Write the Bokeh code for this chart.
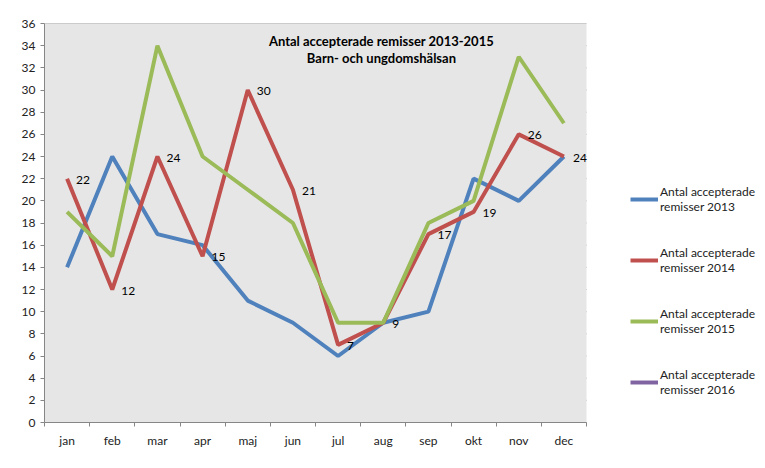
from bokeh.plotting import figure
from bokeh.models import Range1d, FixedTicker, Legend, LegendItem, Label, ColumnDataSource, BoxAnnotation
from bokeh.embed import file_html
from bokeh.resources import INLINE
from bokeh.core.properties import value

months = ["jan", "feb", "mar", "apr", "maj", "jun", "jul", "aug", "sep", "okt", "nov", "dec"]
s2013 = [14, 24, 17, 16, 11, 9, 6, 9, 10, 22, 20, 24]
s2014 = [22, 12, 24, 15, 30, 21, 7, 9, 17, 19, 26, 24]
s2015 = [19, 15, 34, 24, 21, 18, 9, 9, 18, 20, 33, 27]
s2016 = [None, None, None, None, None, None, None, None, None, None, None, None]
names = ["Antal accepterade\nremisser 2013", "Antal accepterade\nremisser 2014",
         "Antal accepterade\nremisser 2015", "Antal accepterade\nremisser 2016"]
colors = ["#4F81BD", "#C0504D", "#9BBB59", "#8064A2"]
title_lines = ["Antal accepterade remisser 2013-2015", "Barn- och ungdomshälsan"]
yticks = list(range(0, 37, 2))

FONT = "Lato"
GRID = "#868686"
x = list(range(len(months)))
xlo, xhi = -0.5, len(months) - 0.5
# frame spans to the right edge; the legend sits in the extra room
W, LEFT = 765, 44
data_px = 542
xend = xlo + (W - LEFT) * (xhi - xlo) / data_px

p = figure(width=W, height=468, output_backend="svg", toolbar_location=None,
           x_range=Range1d(xlo, xend), y_range=Range1d(0, 36))
p.min_border_left = LEFT
p.min_border_right = 0
p.min_border_top = 23
p.min_border_bottom = 46
p.background_fill_color = "white"
p.border_fill_color = "white"
p.outline_line_color = None
p.xgrid.grid_line_color = None
p.ygrid.grid_line_color = None

p.add_layout(BoxAnnotation(left=xlo, right=xhi, bottom=0, top=36, fill_color="#E6E6E6",
                           fill_alpha=1, line_color=None, level="underlay"))
gsrc = ColumnDataSource(dict(x0=[xlo] * len(yticks), x1=[xhi] * len(yticks), y=yticks))
p.segment("x0", "y", "x1", "y", source=gsrc, line_color=GRID, line_width=1, level="underlay")

p.xaxis.bounds = (xlo, xhi)
p.xaxis.ticker = FixedTicker(ticks=x, minor_ticks=[i - 0.5 for i in range(len(months) + 1)])
p.xaxis.major_label_overrides = {i: m for i, m in enumerate(months)}
p.xaxis.major_tick_line_color = None
p.xaxis.minor_tick_in = 0
p.xaxis.minor_tick_out = 4
p.xaxis.minor_tick_line_color = GRID
p.xaxis.axis_line_color = GRID
p.xaxis.major_label_standoff = 4

p.yaxis.ticker = FixedTicker(ticks=yticks)
p.yaxis.major_tick_in = 0
p.yaxis.major_tick_out = 4
p.yaxis.minor_tick_line_color = None
p.yaxis.major_tick_line_color = GRID
p.yaxis.axis_line_color = GRID

for ax in (p.xaxis, p.yaxis):
    ax.major_label_text_font = FONT
    ax.major_label_text_font_size = "12px"
    ax.major_label_text_color = "#222222"

items = []
for data, name, c in zip([s2013, s2014, s2015, s2016], names, colors):
    src = ColumnDataSource(dict(x=x[:len(data)], y=[float("nan") if v is None else v for v in data]))
    r = p.line("x", "y", source=src, line_color=c, line_width=4)
    items.append(LegendItem(label=name, renderers=[r]))

lab = ColumnDataSource(dict(x=x, y=s2014, t=[str(v) for v in s2014]))
p.text("x", "y", text="t", source=lab, x_offset=9, y_offset=1,
       text_font=value(FONT), text_font_size="12px", text_baseline="middle",
       text_color="black")

for t, yy in zip(title_lines, [34.4, 32.85]):
    p.add_layout(Label(x=6.96, y=yy, text=t, text_align="center", text_baseline="middle",
                       text_font=FONT, text_font_style="bold", text_font_size="13px",
                       text_color="black"))

legend = Legend(items=items, location=(586, 25), orientation="vertical",
                label_text_font=FONT, label_text_font_size="12px",
                label_text_line_height=1.25,
                label_text_color="#222222", glyph_width=28, glyph_height=14,
                spacing=31, padding=0, margin=0, border_line_color=None,
                background_fill_alpha=0, label_standoff=2)
p.add_layout(legend, "center")

open("out.html", "w").write(file_html(p, INLINE))
